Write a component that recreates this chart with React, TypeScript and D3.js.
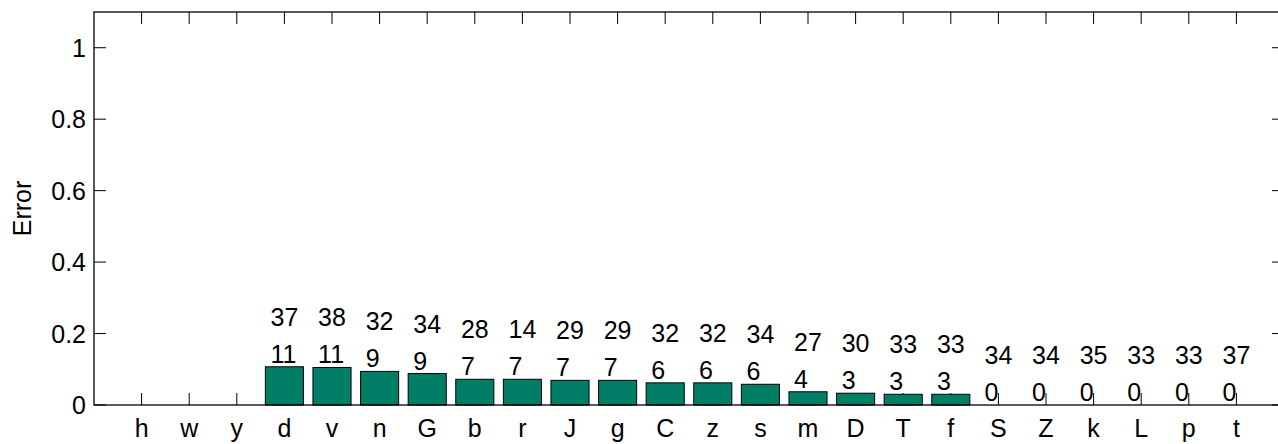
import React from "react";
import * as d3 from "d3";

const categories = ["h","w","y","d","v","n","G","b","r","J","g","C","z","s","m","D","T","f","S","Z","k","L","p","t"];
const errors = [0,0,0,0.107,0.105,0.094,0.088,0.072,0.072,0.069,0.069,0.062,0.062,0.058,0.037,0.033,0.030,0.030,0,0,0,0,0,0];
const totals: (number | null)[] = [null,null,null,37,38,32,34,28,14,29,29,32,32,34,27,30,33,33,34,34,35,33,33,37];
const counts: (number | null)[] = [null,null,null,11,11,9,9,7,7,7,7,6,6,6,4,3,3,3,0,0,0,0,0,0];
const yTicks = [0, 0.2, 0.4, 0.6, 0.8, 1];
const yTickLabels = ["0", "0.2", "0.4", "0.6", "0.8", "1"];

const W = 1278, H = 444;
const left = 94, right = 1284, top = 12, bottom = 405;
const FONT = "'Liberation Sans', Arial, Helvetica, sans-serif";
const FS = 25;
const TICK = 12;

export default function App() {
  const x = d3.scaleLinear().domain([0, categories.length + 1]).range([left, right]);
  const y = d3.scaleLinear().domain([0, 1.1]).range([bottom, top]);
  const bw = x(0.8) - x(0);
  const labelHalf = FS * 0.556;
  return (
    <svg width={W} height={H} style={{ position: "absolute", left: 0, top: 0, background: "#fff" }} fontFamily={FONT}>
      <rect x={0} y={0} width={W} height={H} fill="#fff" />
      {categories.map((c, i) => (
        <g key={"t" + c}>
          <line x1={x(i + 1)} x2={x(i + 1)} y1={bottom} y2={bottom - TICK} stroke="#000" strokeWidth={1} />
          <line x1={x(i + 1)} x2={x(i + 1)} y1={top} y2={top + TICK} stroke="#000" strokeWidth={1} />
        </g>
      ))}
      {yTicks.map((t) => (
        <g key={"y" + t}>
          <line x1={left} x2={left + TICK} y1={y(t)} y2={y(t)} stroke="#000" strokeWidth={1} />
          <line x1={right} x2={right - TICK} y1={y(t)} y2={y(t)} stroke="#000" strokeWidth={1} />
        </g>
      ))}
      {categories.map((c, i) => (
        <rect key={"b" + c} x={x(i + 1) - bw / 2} y={y(errors[i])} width={bw} height={y(0) - y(errors[i])}
          fill="#007F66" stroke="#000" strokeWidth={1} />
      ))}
      <rect x={left} y={top} width={right - left} height={bottom - top} fill="none" stroke="#000" strokeWidth={1.3} />
      {yTicks.map((t, k) => (
        <text key={"yl" + t} x={left - 8} y={y(t)} dy="0.36em" textAnchor="end" fontSize={FS}>{yTickLabels[k]}</text>
      ))}
      {categories.map((c, i) => (
        <text key={"xl" + c} x={x(i + 1)} y={bottom + 32} textAnchor="middle" fontSize={FS}>{c}</text>
      ))}
      {categories.map((c, i) => totals[i] === null ? null : (
        <g key={"vl" + c}>
          <text x={x(i + 1) - labelHalf} y={y(errors[i]) - 41} textAnchor="start" fontSize={FS}>{totals[i]}</text>
          <text x={x(i + 1) - labelHalf} y={y(errors[i]) - 4} textAnchor="start" fontSize={FS}>{counts[i]}</text>
        </g>
      ))}
      <text transform={`translate(31,${(top + bottom) / 2}) rotate(-90)`} textAnchor="middle" fontSize={FS}>Error</text>
    </svg>
  );
}
